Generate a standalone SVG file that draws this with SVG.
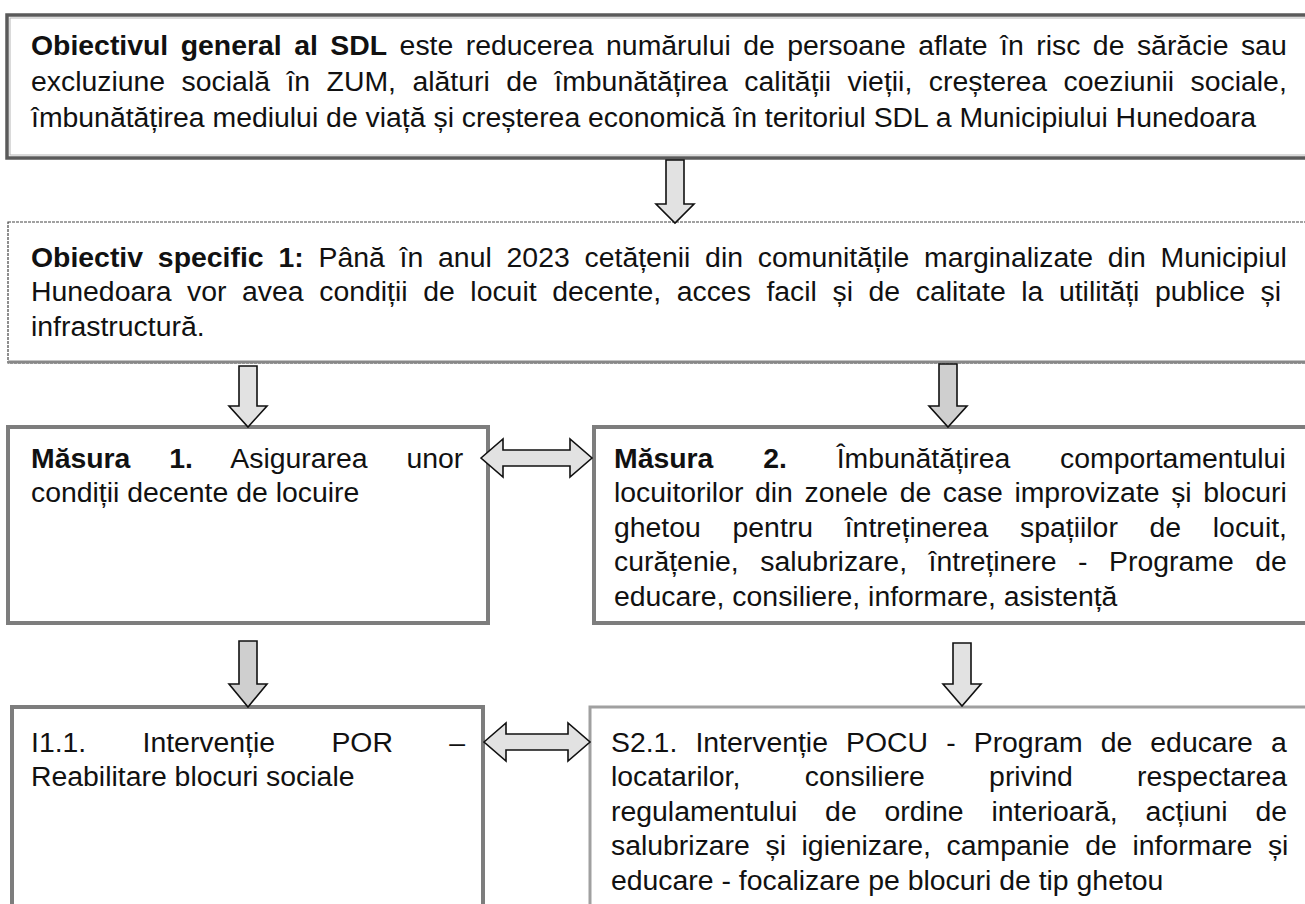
<svg xmlns="http://www.w3.org/2000/svg" width="1305" height="904" viewBox="0 0 1305 904">
<style>
.t{font-family:"Liberation Sans",Arial,sans-serif;font-size:28.4px;fill:#111}
.b{font-weight:bold}
.bx{fill:#fff;stroke:#7d7d7d;stroke-width:4}
.ar{fill:#e2e2e2;stroke:#111;stroke-width:1.6;stroke-linejoin:miter}
.ard{fill:#cfcfcf;stroke:#111;stroke-width:1.6;stroke-linejoin:miter}
</style>
<rect width="1305" height="904" fill="#fff"/>

<g id="general">
<rect x="7" y="15" width="1320" height="143" fill="#fff" stroke="#5a5a5a" stroke-width="3.5"/>
<rect x="10" y="18" width="1320" height="137" fill="none" stroke="#b5b5b5" stroke-width="1"/>
<text class="t" x="31" y="55" style="word-spacing:4.59px"><tspan class="b">Obiectivul general al SDL</tspan> este reducerea numărului de persoane aflate în risc de sărăcie sau</text>
<text class="t" x="31" y="91" style="word-spacing:8.58px">excluziune socială în ZUM, alături de îmbunătățirea calității vieții, creșterea coeziunii sociale,</text>
<text class="t" x="31" y="127">îmbunătățirea mediului de viață și creșterea economică în teritoriul SDL a Municipiului Hunedoara</text>
</g>

<g id="specific1">
<rect x="8" y="222" width="1320" height="141" fill="#fff" stroke="#444" stroke-width="1.2" stroke-dasharray="3 1"/>
<line x1="8" y1="362" x2="1305" y2="362" stroke="#888" stroke-width="3"/>
<text class="t" x="31" y="267" style="word-spacing:6.93px"><tspan class="b">Obiectiv specific 1:</tspan> Până în anul 2023 cetățenii din comunitățile marginalizate din Municipiul</text>
<text class="t" x="31" y="301" style="word-spacing:7.69px">Hunedoara vor avea condiții de locuit decente, acces facil și de calitate la utilități publice și</text>
<text class="t" x="31" y="336">infrastructură.</text>
</g>

<g id="masura1">
<rect class="bx" x="8" y="427" width="480" height="196"/>
<text class="t" x="31" y="468" style="word-spacing:31px"><tspan class="b">Măsura 1.</tspan> Asigurarea unor</text>
<text class="t" x="31" y="502">condiții decente de locuire</text>
</g>

<g id="masura2">
<rect class="bx" x="594" y="427" width="730" height="196"/>
<text class="t" x="614" y="468" style="word-spacing:41.9px"><tspan class="b">Măsura 2.</tspan> Îmbunătățirea comportamentului</text>
<text class="t" x="614" y="502" style="word-spacing:3.7px">locuitorilor din zonele de case improvizate și blocuri</text>
<text class="t" x="614" y="537" style="word-spacing:23.8px">ghetou pentru întreținerea spațiilor de locuit,</text>
<text class="t" x="614" y="571" style="word-spacing:13.7px">curățenie, salubrizare, întreținere - Programe de</text>
<text class="t" x="614" y="606">educare, consiliere, informare, asistență</text>
</g>

<g id="i11">
<rect class="bx" x="12" y="707" width="471" height="230"/>
<text class="t" x="31" y="752" style="word-spacing:48.4px">I1.1. Intervenție POR –</text>
<text class="t" x="31" y="786">Reabilitare blocuri sociale</text>
</g>

<g id="s21">
<rect x="590" y="707" width="730" height="230" fill="#fff" stroke="#a0a0a0" stroke-width="3"/>
<text class="t" x="611" y="752" style="word-spacing:10.2px">S2.1. Intervenție POCU - Program de educare a</text>
<text class="t" x="611" y="786" style="word-spacing:56.5px">locatarilor, consiliere privind respectarea</text>
<text class="t" x="611" y="821" style="word-spacing:20px">regulamentului de ordine interioară, acțiuni de</text>
<text class="t" x="611" y="855" style="word-spacing:7.7px">salubrizare și igienizare, campanie de informare și</text>
<text class="t" x="611" y="890">educare - focalizare pe blocuri de tip ghetou</text>
</g>

<g id="connectors">
<path class="ar" d="M666,160 L684,160 L684,204 L694,204 L675,223 L656,204 L666,204 Z"/>
<path class="ar" d="M239,366 L257,366 L257,406 L267,406 L248,427 L229,406 L239,406 Z"/>
<path class="ard" d="M939,364 L957,364 L957,406 L967,406 L948,427 L929,406 L939,406 Z"/>
<path class="ard" d="M239,641 L257,641 L257,684 L267,684 L248,707 L229,684 L239,684 Z"/>
<path class="ar" d="M953,643 L971,643 L971,684 L981,684 L962,706 L943,684 L953,684 Z"/>
<path class="ar" d="M481,458 L503,439 L503,450 L570,450 L570,439 L592,458 L570,477 L570,466 L503,466 L503,477 Z"/>
<path class="ar" d="M484,742 L506,723 L506,734 L568,734 L568,723 L590,742 L568,761 L568,750 L506,750 L506,761 Z"/>
</g>
</svg>
